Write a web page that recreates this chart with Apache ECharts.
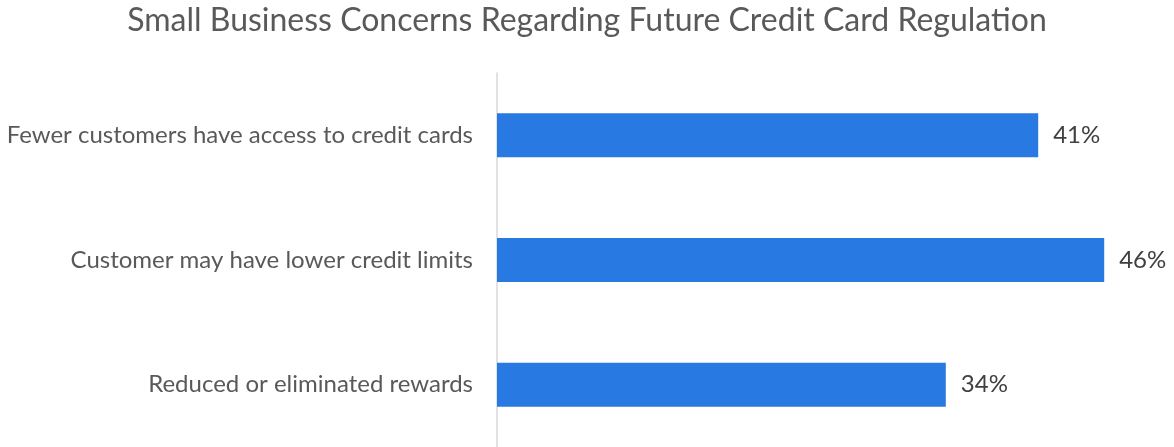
<!DOCTYPE html>
<html>
<head>
<meta charset="utf-8">
<script src="https://cdn.jsdelivr.net/npm/echarts@6/dist/echarts.min.js"></script>
<style>
  html, body { margin: 0; padding: 0; background: #fff; }
  #chart { width: 1174px; height: 447px; }
</style>
</head>
<body>
<div id="chart"></div>
<script>
// data
const categories = [
    'Reduced or eliminated rewards',
    'Customer may have lower credit limits',
    'Fewer customers have access to credit cards'
];
const shares = [34, 46, 41];

const barColor = '#2979E3';
const textColor = '#595959';
const fontFamily = 'Lato, sans-serif';

const chart = echarts.init(document.getElementById('chart'));
chart.setOption({
    animation: false,
    backgroundColor: '#fff',
    title: {
        text: 'Small Business Concerns Regarding Future Credit Card Regulation',
        left: 'center',
        top: 0,
        textStyle: { color: textColor, fontFamily, fontSize: 32, fontWeight: 'normal' }
    },
    grid: { left: 497, right: 17, top: 73, height: 376, containLabel: false },
    xAxis: {
        type: 'value',
        min: 0,
        max: 50,
        show: false
    },
    yAxis: {
        type: 'category',
        data: categories,
        axisLine: { show: true, lineStyle: { color: '#d9d9d9', width: 1.5 } },
        axisTick: { show: false },
        axisLabel: { color: textColor, fontFamily, fontSize: 24, margin: 24 }
    },
    series: [{
        type: 'bar',
        data: shares,
        barWidth: 44,
        itemStyle: { color: barColor },
        label: {
            show: true,
            position: 'right',
            distance: 15,
            formatter: '{c}%',
            color: '#404040',
            fontFamily,
            fontSize: 24
        }
    }]
});
</script>
</body>
</html>
